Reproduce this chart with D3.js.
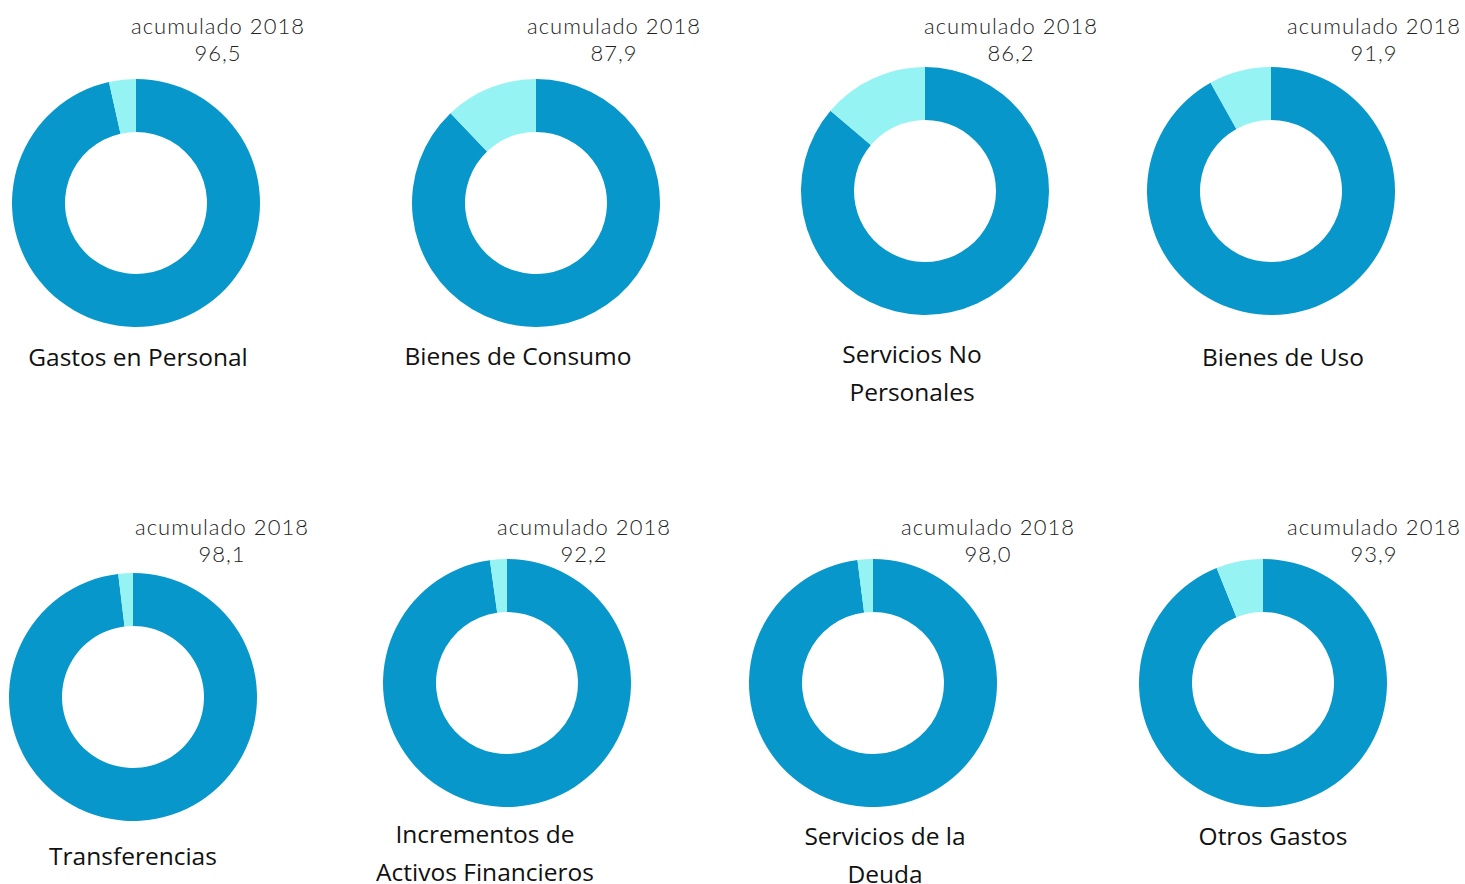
<!DOCTYPE html>
<html>
<head>
<meta charset="utf-8">
<script src="https://cdn.jsdelivr.net/npm/d3@7"></script>
<style>
  body { margin: 0; background: #fff; }
  .hdr { font-family: "Lato", sans-serif; font-weight: 300; fill: #222; letter-spacing: 1px; }
  .cat { font-family: "Open Sans", "Noto Sans", sans-serif; fill: #111; }
</style>
</head>
<body>
<svg id="chart" width="1465" height="884"></svg>
<script>
// data
const categorias = [
  ["Gastos en Personal"],
  ["Bienes de Consumo"],
  ["Servicios No", "Personales"],
  ["Bienes de Uso"],
  ["Transferencias"],
  ["Incrementos de", "Activos Financieros"],
  ["Servicios de la", "Deuda"],
  ["Otros Gastos"]
];
const acumulado = [96.5, 87.9, 86.2, 91.9, 98.1, 92.2, 98.0, 93.9];
// share drawn as the dark ring segment (estimated from the slices)
const ejecutado = [96.5, 87.9, 86.2, 91.9, 98.1, 97.8, 98.0, 93.9];
const tituloSerie = "acumulado 2018";

// layout of each small donut
const panels = [
  {cx: 136, cy: 203, hx: 218, hy: 34, lx: 138, ly: 366},
  {cx: 536, cy: 203, hx: 614, hy: 34, lx: 518, ly: 365},
  {cx: 925, cy: 191, hx: 1011, hy: 34, lx: 912, ly: 363},
  {cx: 1271, cy: 191, hx: 1374, hy: 34, lx: 1283, ly: 366},
  {cx: 133, cy: 697, hx: 222, hy: 535, lx: 133, ly: 865},
  {cx: 507, cy: 683, hx: 584, hy: 535, lx: 485, ly: 843},
  {cx: 873, cy: 683, hx: 988, hy: 535, lx: 885, ly: 845},
  {cx: 1263, cy: 683, hx: 1374, hy: 535, lx: 1273, ly: 845}
];

const colors = d3.scaleOrdinal().domain(["ejec", "resto"]).range(["#0797cb", "#95f3f3"]);
const pie = d3.pie().sort(null).value(d => d.v);
const arc = d3.arc().innerRadius(71).outerRadius(124);
const fmt = v => d3.format(".1f")(v).replace(".", ",");

const svg = d3.select("#chart");

panels.forEach((p, i) => {
  const g = svg.append("g");
  const data = [{k: "ejec", v: ejecutado[i]}, {k: "resto", v: 100 - ejecutado[i]}];

  g.append("g")
    .attr("transform", `translate(${p.cx},${p.cy})`)
    .selectAll("path")
    .data(pie(data))
    .join("path")
    .attr("d", arc)
    .attr("fill", d => colors(d.data.k));

  g.append("text").attr("class", "hdr")
    .attr("x", p.hx).attr("y", p.hy)
    .attr("text-anchor", "middle")
    .style("font-size", "22px")
    .text(tituloSerie);
  g.append("text").attr("class", "hdr")
    .attr("x", p.hx).attr("y", p.hy + 27)
    .attr("text-anchor", "middle")
    .style("font-size", "22px")
    .text(fmt(acumulado[i]));

  categorias[i].forEach((line, j) => {
    g.append("text").attr("class", "cat")
      .attr("x", p.lx)
      .attr("y", p.ly + j * 38)
      .attr("text-anchor", "middle")
      .style("font-size", "24.5px")
      .text(line);
  });
});
</script>
</body>
</html>
